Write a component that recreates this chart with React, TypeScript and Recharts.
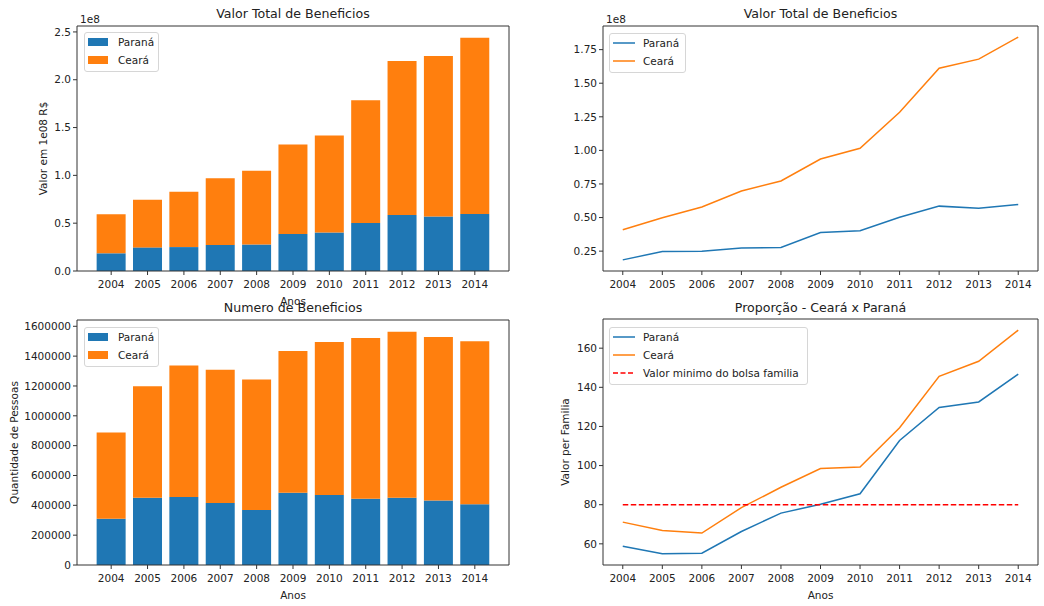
import React from 'react';
import { BarChart, Bar, LineChart, Line, XAxis, YAxis, Legend, Label, ReferenceLine } from 'recharts';

// ---------- data ----------
const years = [2004, 2005, 2006, 2007, 2008, 2009, 2010, 2011, 2012, 2013, 2014];
// Valor total de benefícios (em 1e8 R$)
const valorParana = [0.185, 0.247, 0.25, 0.273, 0.277, 0.388, 0.402, 0.502, 0.585, 0.57, 0.597];
const valorCeara = [0.409, 0.498, 0.578, 0.697, 0.772, 0.936, 1.016, 1.284, 1.612, 1.679, 1.843];
// Número de benefícios (pessoas)
const qtdParana = [310000, 451000, 455000, 415000, 368000, 484000, 469000, 444000, 451000, 433000, 408000];
const qtdCeara = [578000, 747000, 882000, 893000, 875000, 951000, 1026000, 1078000, 1113000, 1096000, 1092000];
// Valor por família
const propParana = [58.8, 54.9, 55.2, 66.3, 75.7, 80.2, 85.6, 112.8, 129.7, 132.5, 146.7];
const propCeara = [71.1, 66.8, 65.5, 78.5, 88.9, 98.5, 99.3, 119.3, 145.6, 153.3, 169.2];
const valorMinimo = 80;

const ticksValorStack = [0, 0.5, 1.0, 1.5, 2.0, 2.5];
const ticksValorLine = [0.25, 0.5, 0.75, 1.0, 1.25, 1.5, 1.75];
const ticksQtd = [0, 200000, 400000, 600000, 800000, 1000000, 1200000, 1400000, 1600000];
const ticksProp = [60, 80, 100, 120, 140, 160];

const valorRows = years.map((y, i) => ({ year: String(y), x: y, parana: valorParana[i], ceara: valorCeara[i] }));
const qtdRows = years.map((y, i) => ({ year: String(y), parana: qtdParana[i], ceara: qtdCeara[i] }));
const propRows = years.map((y, i) => ({ x: y, parana: propParana[i], ceara: propCeara[i] }));

// matplotlib-like autoscale (5% margins)
const autoDomain = (vals: number[], zeroBase = false): [number, number] => {
  const lo = zeroBase ? 0 : Math.min(...vals);
  const hi = Math.max(...vals);
  const m = (hi - lo) * 0.05;
  return [zeroBase ? 0 : lo - m, hi + m];
};
const stackValor = valorParana.map((v, i) => v + valorCeara[i]);
const stackQtd = qtdParana.map((v, i) => v + qtdCeara[i]);
const domValorStack = autoDomain(stackValor, true);
const domValorLine = autoDomain([...valorParana, ...valorCeara]);
const domQtd = autoDomain(stackQtd, true);
const domProp = autoDomain([...propParana, ...propCeara]);

// ---------- style ----------
const FONT = '"DejaVu Sans", sans-serif';
const TXT = '#222';
const AX = '#333';
const BLUE = '#1f77b4';
const ORANGE = '#ff7f0e';
const RED = '#ff0000';
const TICK = { fill: TXT, fontSize: 10.5, fontFamily: FONT };
const TITLE_SIZE = 12.6;

type LegendItem = { label: string; color: string; kind: 'patch' | 'line' | 'dash' };

const LegendBox = ({ items, width }: { items: LegendItem[]; width: number }) => (
  <div
    style={{
      border: '1px solid #d6d6d6',
      borderRadius: 3,
      background: 'rgba(255,255,255,0.85)',
      width,
      boxSizing: 'border-box',
      padding: '0 0 2px 3px',
      fontFamily: FONT,
      fontSize: 10.5,
      color: TXT,
      lineHeight: '18px',
    }}
  >
    {items.map((it) => (
      <div key={it.label} style={{ height: 18, display: 'flex', alignItems: 'center' }}>
        {it.kind === 'patch' ? (
          <div style={{ width: 20, height: 8, background: it.color, marginRight: 10 }} />
        ) : (
          <svg width={22} height={4} style={{ marginRight: 8, display: 'block' }}>
            <line
              x1={0}
              y1={2}
              x2={22}
              y2={2}
              stroke={it.color}
              strokeWidth={1.5}
              strokeDasharray={it.kind === 'dash' ? '5 2.5' : undefined}
            />
          </svg>
        )}
        <span style={{ whiteSpace: 'nowrap' }}>{it.label}</span>
      </div>
    ))}
  </div>
);

const barLegend: LegendItem[] = [
  { label: 'Paraná', color: BLUE, kind: 'patch' },
  { label: 'Ceará', color: ORANGE, kind: 'patch' },
];
const lineLegend: LegendItem[] = [
  { label: 'Paraná', color: BLUE, kind: 'line' },
  { label: 'Ceará', color: ORANGE, kind: 'line' },
];
const propLegend: LegendItem[] = [
  ...lineLegend,
  { label: 'Valor minimo do bolsa familia', color: RED, kind: 'dash' },
];

const titleLabel = (text: string, cy: number) => (props: any) => {
  const vb = props.viewBox || {};
  return (
    <text
      x={vb.x + vb.width / 2}
      y={cy}
      textAnchor="middle"
      dominantBaseline="central"
      fontSize={TITLE_SIZE}
      fontFamily={FONT}
      fill={TXT}
    >
      {text}
    </text>
  );
};

const offsetLabel = (text: string, cy: number) => (props: any) => {
  const vb = props.viewBox || {};
  return (
    <text x={vb.x + 3} y={cy} textAnchor="start" dominantBaseline="central" fontSize={10.5} fontFamily={FONT} fill={TXT}>
      {text}
    </text>
  );
};

const xLabel = (text: string, cy: number) => (props: any) => {
  const vb = props.viewBox || {};
  return (
    <text
      x={vb.x + vb.width / 2}
      y={cy}
      textAnchor="middle"
      dominantBaseline="central"
      fontSize={10.5}
      fontFamily={FONT}
      fill={TXT}
    >
      {text}
    </text>
  );
};

const yLabel = (text: string, cx: number) => (props: any) => {
  const vb = props.viewBox || {};
  const cy = vb.y + vb.height / 2;
  return (
    <text
      x={cx}
      y={cy}
      transform={`rotate(-90 ${cx} ${cy})`}
      textAnchor="middle"
      dominantBaseline="central"
      fontSize={10.5}
      fontFamily={FONT}
      fill={TXT}
    >
      {text}
    </text>
  );
};

const fmt1 = (v: number) => v.toFixed(1);
const fmt2 = (v: number) => v.toFixed(2);
const fmt0 = (v: number) => String(Math.round(v));

export default function App() {
  return (
    <div
      style={{
        position: 'absolute',
        left: 0,
        top: 0,
        width: 1044,
        height: 606,
        background: '#fff',
        fontFamily: FONT,
        overflow: 'hidden',
      }}
    >
      {/* Top-left: stacked bars, valor total */}
      <div style={{ position: 'absolute', left: 0, top: 0 }}>
        <BarChart
          width={530}
          height={310}
          data={valorRows}
          margin={{ top: 25, right: 20, left: 0, bottom: 0 }}
          barCategoryGap="10%"
        >
          <XAxis
            dataKey="year"
            interval={0}
            padding={{ left: 16, right: 16 }}
            height={39}
            tick={TICK}
            tickSize={4}
            tickMargin={6}
            stroke={AX}
          >
            <Label content={xLabel('Anos', 301)} />
          </XAxis>
          <XAxis xAxisId="top" dataKey="year" orientation="top" height={1} tick={false} tickLine={false} stroke={AX} padding={{ left: 16, right: 16 }}>
            <Label content={titleLabel('Valor Total de Beneficios', 13)} />
            <Label content={offsetLabel('1e8', 19)} />
          </XAxis>
          <YAxis
            type="number"
            domain={domValorStack}
            allowDataOverflow
            ticks={ticksValorStack}
            tickFormatter={fmt1}
            width={77}
            tick={TICK}
            tickSize={4}
            tickMargin={2}
            stroke={AX}
          >
            <Label content={yLabel('Valor em 1e08 R$', 43)} />
          </YAxis>
          <YAxis yAxisId="r" orientation="right" width={1} tick={false} tickLine={false} stroke={AX} domain={[0, 1]} />
          <Bar dataKey="parana" name="Paraná" stackId="s" fill={BLUE} isAnimationActive={false} />
          <Bar dataKey="ceara" name="Ceará" stackId="s" fill={ORANGE} isAnimationActive={false} />
          <Legend
            layout="vertical"
            align="center"
            verticalAlign="middle"
            wrapperStyle={{ top: 32, left: 84, width: 75 }}
            content={() => <LegendBox items={barLegend} width={75} />}
          />
        </BarChart>
      </div>

      {/* Top-right: lines, valor total */}
      <div style={{ position: 'absolute', left: 520, top: 0 }}>
        <LineChart width={524} height={300} data={valorRows} margin={{ top: 25, right: 5, left: 0, bottom: 0 }}>
          <XAxis
            dataKey="x"
            type="number"
            domain={[2003.5, 2014.5]}
            allowDataOverflow
            ticks={years}
            interval={0}
            height={29}
            tick={TICK}
            tickSize={4}
            tickMargin={6}
            stroke={AX}
          />
          <XAxis xAxisId="top" dataKey="x" type="number" domain={[2003.5, 2014.5]} orientation="top" height={1} tick={false} tickLine={false} stroke={AX}>
            <Label content={titleLabel('Valor Total de Beneficios', 13)} />
            <Label content={offsetLabel('1e8', 19)} />
          </XAxis>
          <YAxis
            type="number"
            domain={domValorLine}
            allowDataOverflow
            ticks={ticksValorLine}
            tickFormatter={fmt2}
            width={83}
            tick={TICK}
            tickSize={4}
            tickMargin={2}
            stroke={AX}
          />
          <YAxis yAxisId="r" orientation="right" width={1} tick={false} tickLine={false} stroke={AX} domain={[0, 1]} />
          <Line dataKey="parana" name="Paraná" stroke={BLUE} strokeWidth={1.5} dot={false} isAnimationActive={false} />
          <Line dataKey="ceara" name="Ceará" stroke={ORANGE} strokeWidth={1.5} dot={false} isAnimationActive={false} />
          <Legend
            layout="vertical"
            align="center"
            verticalAlign="middle"
            wrapperStyle={{ top: 33, left: 89, width: 77 }}
            content={() => <LegendBox items={lineLegend} width={77} />}
          />
        </LineChart>
      </div>

      {/* Bottom-left: stacked bars, número de benefícios */}
      <div style={{ position: 'absolute', left: 0, top: 295 }}>
        <BarChart
          width={530}
          height={311}
          data={qtdRows}
          margin={{ top: 24, right: 20, left: 0, bottom: 0 }}
          barCategoryGap="10%"
        >
          <XAxis
            dataKey="year"
            interval={0}
            padding={{ left: 16, right: 16 }}
            height={41}
            tick={TICK}
            tickSize={4}
            tickMargin={6}
            stroke={AX}
          >
            <Label content={xLabel('Anos', 300)} />
          </XAxis>
          <XAxis xAxisId="top" dataKey="year" orientation="top" height={1} tick={false} tickLine={false} stroke={AX} padding={{ left: 16, right: 16 }}>
            <Label content={titleLabel('Numero de Beneficios', 12)} />
          </XAxis>
          <YAxis
            type="number"
            domain={domQtd}
            allowDataOverflow
            ticks={ticksQtd}
            tickFormatter={fmt0}
            width={77}
            tick={TICK}
            tickSize={4}
            tickMargin={2}
            stroke={AX}
          >
            <Label content={yLabel('Quantidade de Pessoas', 14)} />
          </YAxis>
          <YAxis yAxisId="r" orientation="right" width={1} tick={false} tickLine={false} stroke={AX} domain={[0, 1]} />
          <Bar dataKey="parana" name="Paraná" stackId="s" fill={BLUE} isAnimationActive={false} />
          <Bar dataKey="ceara" name="Ceará" stackId="s" fill={ORANGE} isAnimationActive={false} />
          <Legend
            layout="vertical"
            align="center"
            verticalAlign="middle"
            wrapperStyle={{ top: 32, left: 84, width: 75 }}
            content={() => <LegendBox items={barLegend} width={75} />}
          />
        </BarChart>
      </div>

      {/* Bottom-right: proporção */}
      <div style={{ position: 'absolute', left: 520, top: 295 }}>
        <LineChart width={524} height={311} data={propRows} margin={{ top: 23, right: 5, left: 0, bottom: 0 }}>
          <XAxis
            dataKey="x"
            type="number"
            domain={[2003.5, 2014.5]}
            allowDataOverflow
            ticks={years}
            interval={0}
            height={41}
            tick={TICK}
            tickSize={4}
            tickMargin={6}
            stroke={AX}
          >
            <Label content={xLabel('Anos', 300)} />
          </XAxis>
          <XAxis xAxisId="top" dataKey="x" type="number" domain={[2003.5, 2014.5]} orientation="top" height={1} tick={false} tickLine={false} stroke={AX}>
            <Label content={titleLabel('Proporção - Ceará x Paraná', 12)} />
          </XAxis>
          <YAxis
            type="number"
            domain={domProp}
            allowDataOverflow
            ticks={ticksProp}
            tickFormatter={fmt0}
            width={83}
            tick={TICK}
            tickSize={4}
            tickMargin={2}
            stroke={AX}
          >
            <Label content={yLabel('Valor per Familia', 45)} />
          </YAxis>
          <YAxis yAxisId="r" orientation="right" width={1} tick={false} tickLine={false} stroke={AX} domain={[0, 1]} />
          <Line dataKey="parana" name="Paraná" stroke={BLUE} strokeWidth={1.5} dot={false} isAnimationActive={false} />
          <Line dataKey="ceara" name="Ceará" stroke={ORANGE} strokeWidth={1.5} dot={false} isAnimationActive={false} />
          <ReferenceLine
            segment={[
              { x: years[0], y: valorMinimo },
              { x: years[years.length - 1], y: valorMinimo },
            ]}
            stroke={RED}
            strokeWidth={1.5}
            strokeDasharray="5.5 2.5"
          />
          <Legend
            layout="vertical"
            align="center"
            verticalAlign="middle"
            wrapperStyle={{ top: 32, left: 89, width: 199 }}
            content={() => <LegendBox items={propLegend} width={199} />}
          />
        </LineChart>
      </div>
    </div>
  );
}
